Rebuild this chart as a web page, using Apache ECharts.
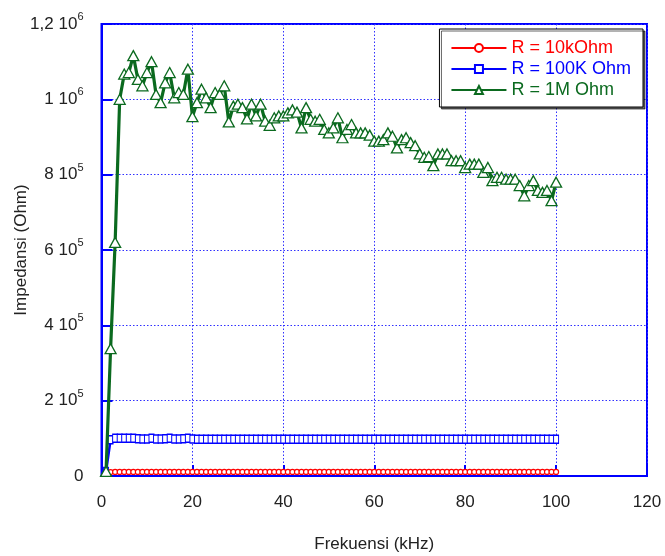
<!DOCTYPE html>
<html>
<head>
<meta charset="utf-8">
<script src="https://cdn.jsdelivr.net/npm/echarts@6/dist/echarts.min.js"></script>
<style>html,body{margin:0;padding:0;background:#fff}#c{width:665px;height:556px}</style>
</head>
<body>
<div id="c"></div>
<script>
var freq = [];
for (var i = 1; i <= 100; i++) freq.push(i);

var r10k = [8000,10500,10800,10800,10800,10800,10800,10800,10800,10800,
  10800,10800,10800,10800,10800,10800,10800,10800,10800,10800,
  10800,10800,10800,10800,10800,10800,10800,10800,10800,10800,
  10800,10800,10800,10800,10800,10800,10800,10800,10800,10800,
  10800,10800,10800,10800,10800,10800,10800,10800,10800,10800,
  10800,10800,10800,10800,10800,10800,10800,10800,10800,10800,
  10800,10800,10800,10800,10800,10800,10800,10800,10800,10800,
  10800,10800,10800,10800,10800,10800,10800,10800,10800,10800,
  10800,10800,10800,10800,10800,10800,10800,10800,10800,10800,
  10800,10800,10800,10800,10800,10800,10800,10800,10800,10800];

var r100k = [12000,96000,100000,100000,100000,100000,100000,99000,98000,98000,
  100000,98000,98000,99000,100000,98000,98000,99000,100000,98000,
  97500,97500,97500,97500,97500,97500,97500,97500,97500,97500,
  97500,97500,97500,97500,97500,97500,97500,97500,97500,97500,
  97500,97500,97500,97500,97500,97500,97500,97500,97500,97500,
  97500,97500,97500,97500,97500,97500,97500,97500,97500,97500,
  97500,97500,97500,97500,97500,97500,97500,97500,97500,97500,
  97500,97500,97500,97500,97500,97500,97500,97500,97500,97500,
  97500,97500,97500,97500,97500,97500,97500,97500,97500,97500,
  97500,97500,97500,97500,97500,97500,97500,97500,97500,97500];

var r1M = [12000,338000,620000,1000000,1067000,1071000,1116000,1053000,1036000,1071000,
  1100000,1013000,991000,1044000,1071000,1004000,1018000,1013000,1080000,954000,
  991000,1027000,1004000,978000,1018000,1013000,1036000,940000,982000,987000,
  978000,948000,987000,956000,987000,942000,931000,951000,956000,956000,
  964000,972000,966000,924000,978000,947000,942000,947000,920000,911000,
  924000,951000,898000,920000,933000,911000,911000,911000,905000,889000,
  889000,893000,911000,902000,871000,893000,898000,885000,877000,855000,
  846000,848000,824000,855000,855000,855000,837000,837000,837000,819000,
  828000,828000,828000,806000,819000,784000,793000,793000,788000,788000,
  788000,771000,744000,771000,784000,758000,753000,758000,731000,780000];

var seriesNames = ['R = 10kOhm', 'R = 100K Ohm', 'R = 1M Ohm'];
var seriesColors = ['#ff0000', '#0000ff', '#0b6a1f'];
var yTickLabels = {0:'0', 200000:'2 10|5', 400000:'4 10|5', 600000:'6 10|5', 800000:'8 10|5', 1000000:'1 10|6', 1200000:'1,2 10|6'};

function pairs(ys) { return freq.map(function (f, i) { return [f, ys[i]]; }); }

var chart = echarts.init(document.getElementById('c'), null, {renderer: 'canvas'});
var txt = '#222';
var font = 'Liberation Sans';
chart.setOption({
  animation: false,
  backgroundColor: '#fff',
  grid: {left: 101.5, right: 18, top: 24, bottom: 80, show: true, borderColor: '#0000ff', borderWidth: 2,
         backgroundColor: 'transparent', containLabel: false, outerBoundsMode: 'none'},
  legend: {
    right: 22, top: 29, orient: 'vertical',
    backgroundColor: '#fff', borderColor: '#000', borderWidth: 1,
    shadowColor: 'rgba(0,0,0,0.6)', shadowOffsetX: 2, shadowOffsetY: 2, shadowBlur: 0,
    padding: [10, 12, 8, 11], itemGap: 3, itemWidth: 55, itemHeight: 10,
    textStyle: {fontFamily: font, fontSize: 18},
    data: seriesNames.map(function (n, i) { return {name: n, textStyle: {color: seriesColors[i]}}; })
  },
  xAxis: {
    type: 'value', min: 0, max: 120, interval: 20,
    name: 'Frekuensi (kHz)', nameLocation: 'middle', nameGap: 60, nameMoveOverlap: false,
    nameTextStyle: {fontFamily: font, fontSize: 17, color: txt},
    axisLine: {show: true, lineStyle: {color: '#0000ff', width: 2}},
    axisTick: {show: true, inside: true, length: 11, lineStyle: {color: '#0000ff', width: 2}},
    axisLabel: {fontFamily: font, fontSize: 17, color: txt, margin: 18},
    splitLine: {show: true, lineStyle: {color: '#3030ff', width: 1, type: [1.5, 2]}}
  },
  yAxis: {
    type: 'value', min: 0, max: 1200000, interval: 200000,
    name: 'Impedansi (Ohm)', nameLocation: 'middle', nameGap: 72, nameMoveOverlap: false,
    nameTextStyle: {fontFamily: font, fontSize: 17, color: txt},
    axisLine: {show: true, lineStyle: {color: '#0000ff', width: 2}},
    axisTick: {show: true, inside: true, length: 11, lineStyle: {color: '#0000ff', width: 2}},
    axisLabel: {
      margin: 18,
      formatter: function (v) {
        var s = yTickLabels[v];
        if (s === undefined) return '';
        var p = s.split('|');
        if (p.length === 1) return '{b|' + p[0] + '}';
        return '{b|' + p[0] + '}{s|' + p[1] + '}';
      },
      rich: {
        b: {fontFamily: font, fontSize: 17, color: txt},
        s: {fontFamily: font, fontSize: 11, color: txt, padding: [0, 0, 14, 0]}
      }
    },
    splitLine: {show: true, lineStyle: {color: '#3030ff', width: 1, type: [1.5, 2]}}
  },
  series: [
    {name: seriesNames[0], type: 'line', data: pairs(r10k),
     lineStyle: {width: 2.5, color: seriesColors[0]}, symbol: 'circle', symbolSize: 5, showAllSymbol: true,
     itemStyle: {color: '#fff', borderColor: seriesColors[0], borderWidth: 1.2}, z: 2},
    {name: seriesNames[1], type: 'line', data: pairs(r100k),
     lineStyle: {width: 2.5, color: seriesColors[1]}, symbol: 'rect', symbolSize: [5, 8], showAllSymbol: true,
     itemStyle: {color: '#fff', borderColor: seriesColors[1], borderWidth: 1.2}, z: 3},
    {name: seriesNames[2], type: 'line', data: pairs(r1M),
     lineStyle: {width: 3.2, color: seriesColors[2]}, symbol: 'triangle', symbolSize: [11, 10], showAllSymbol: true,
     itemStyle: {color: '#fff', borderColor: seriesColors[2], borderWidth: 1.3}, z: 4}
  ]
});
</script>
</body>
</html>
